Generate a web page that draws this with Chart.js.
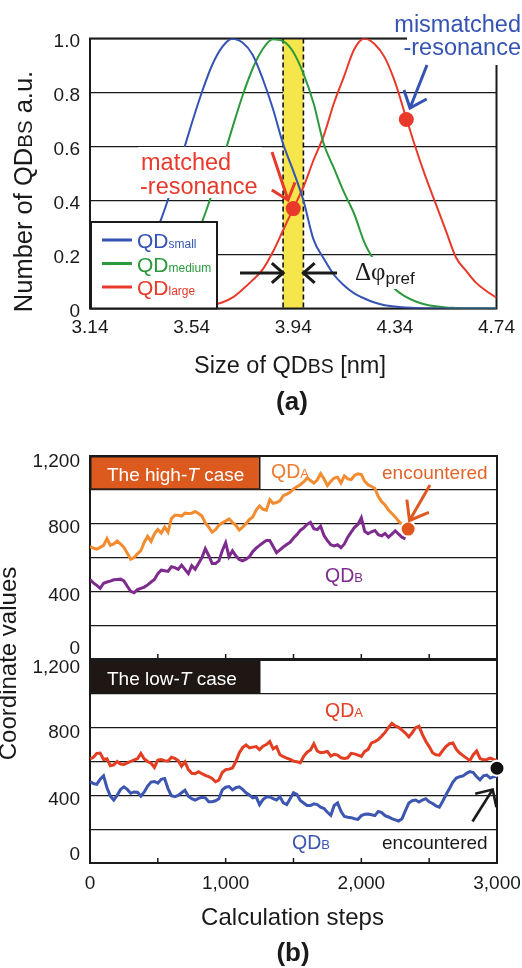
<!DOCTYPE html>
<html><head><meta charset="utf-8">
<script src="https://cdn.jsdelivr.net/npm/chart.js@4/dist/chart.umd.min.js"></script>
<style>
html,body{margin:0;padding:0;background:#fff;}
#wrap{position:relative;width:522px;height:968px;overflow:hidden;background:#fff;}
#wrap canvas{position:absolute;left:0;top:0;}
</style></head><body>
<div id="wrap">
<canvas id="ca" width="522" height="968"></canvas>
<canvas id="cb1" width="522" height="968"></canvas>
<canvas id="cb2" width="522" height="968"></canvas>
</div>
<script>
// ---------------- DATA ----------------
// Panel (a): size distributions
const sizeNm = [3.14,3.18,3.22,3.26,3.30,3.34,3.38,3.42,3.46,3.50,3.54,3.58,3.62,3.66,3.70,3.74,3.78,3.82,3.86,3.90,3.94,3.98,4.02,4.06,4.10,4.14,4.18,4.22,4.26,4.30,4.34,4.38,4.42,4.46,4.50,4.54,4.58,4.62,4.66,4.70,4.74];
const qdSmall = [0.014,0.025,0.042,0.07,0.11,0.165,0.239,0.331,0.44,0.56,0.684,0.80,0.90,0.968,0.999,0.985,0.94,0.85,0.74,0.61,0.51,0.40,0.255,0.185,0.125,0.085,0.056,0.037,0.022,0.012,0.007,0.004,0.002,0.001,0,0,0,0,0,0,0];
const qdMedium = [0.001,0.002,0.004,0.007,0.013,0.023,0.040,0.066,0.104,0.157,0.228,0.318,0.425,0.544,0.668,0.787,0.888,0.961,0.997,0.99,0.95,0.87,0.76,0.61,0.52,0.43,0.35,0.245,0.175,0.12,0.072,0.045,0.027,0.015,0.008,0.004,0.002,0,0,0,0];
const qdLarge = [0,0,0,0,0,0,0,0,0,0.001,0.003,0.006,0.012,0.022,0.04,0.07,0.105,0.145,0.21,0.29,0.37,0.45,0.55,0.64,0.76,0.86,0.96,1.0,0.98,0.93,0.84,0.72,0.60,0.49,0.39,0.29,0.19,0.14,0.095,0.065,0.04];
const sizeTicks = [3.14,3.54,3.94,4.34,4.74];
const countTicks = [0,0.2,0.4,0.6,0.8,1.0];
const prefBand = [3.90,3.98];
const matchedPt = [3.94,0.37];
const mismatchedPt = [4.385,0.70];

// Panel (b): coordinate values vs calculation steps (sampled every 25 steps)
const highA = [665,655,650,660,672,712,672,680,697,680,
660,625,590,600,622,640,690,725,695,740,
765,745,780,750,830,850,850,845,862,860,
862,872,860,845,805,780,750,765,790,805,
815,828,808,790,762,780,800,825,840,880,
905,885,880,942,920,925,935,965,975,985,
1005,1018,1030,1047,1070,1055,1040,1058,1095,1065,
1025,1050,1070,1075,1040,1082,1065,1060,1085,1095,
1090,1050,1030,1020,1008,960,930,910,880,860,
840,815,795,780];
const highB = [470,450,435,418,448,455,460,468,470,472,
462,430,400,392,410,418,425,438,455,470,
505,525,522,518,545,540,530,555,530,505,
552,530,565,600,652,612,565,565,580,640,
687,605,640,610,588,580,590,605,635,655,
672,687,700,700,665,628,645,662,677,690,
715,735,760,775,795,808,770,765,785,730,
700,675,668,675,658,680,720,750,778,795,
835,755,740,752,760,735,728,742,720,738,
758,738,720,710];
const lowA = [615,625,648,650,612,616,575,580,600,585,
582,592,600,610,616,648,615,600,590,565,
608,612,605,602,625,618,605,572,598,552,
530,528,540,528,518,510,500,480,490,535,
552,555,562,600,650,682,698,680,685,688,
670,690,700,718,675,688,640,628,620,612,
602,598,593,630,655,668,705,662,652,655,
660,632,642,638,622,618,622,648,645,638,
630,660,672,710,718,730,750,772,800,825,
810,802,785,768,745,770,800,808,760,720,
688,652,640,638,665,690,705,710,672,650,
635,620,605,640,662,618,610,612,620,612,
605];
const lowB = [482,470,465,495,515,445,395,372,400,435,
450,435,412,420,418,395,420,455,478,482,
472,495,500,440,398,392,400,415,430,395,
380,372,382,388,385,362,362,368,380,432,
448,452,432,445,450,435,415,402,385,390,
345,375,390,392,380,372,392,355,345,380,
415,405,370,355,340,340,350,345,330,322,
300,282,340,355,305,275,270,268,262,258,
280,288,290,285,280,305,298,280,272,262,
255,248,262,310,355,368,372,360,372,380,
362,352,338,330,365,405,440,478,502,510,
515,530,540,535,510,492,515,520,502,510,
512];
const highSteps = highA.map((_, i) => i * 25);
const lowSteps = lowA.map((_, i) => i * 25);
const highEncounter = [2345, 768];
const lowEncounter = [3000, 560];
const stepTicks = [0,1000,2000,3000];
const stepMinorTicks = [500,1000,1500,2000,2500];
const coordTicks = [0,400,800,1200];
const coordGrid = [0,200,400,600,800,1000,1200];

// ---------------- STYLE ----------------
const SANS = "'Liberation Sans', Arial, Helvetica, sans-serif";
const SERIF = "'Liberation Serif', 'Times New Roman', serif";
const C_BLUE = '#3553b3', C_GREEN = '#2c9a3c', C_RED = '#e8392a';
const C_ORANGE = '#f38b2f', C_PURPLE = '#7e2b8e', C_LRED = '#e33d22', C_LBLUE = '#3c56b1';
const INK = '#1a1a1a';

function fnt(p){ return (p.i?'italic ':'') + (p.b?'bold ':'') + p.s + 'px ' + (p.serif?SERIF:SANS); }
function rich(ctx, parts, x, y, align, color){
  ctx.save();
  ctx.textBaseline = 'alphabetic'; ctx.textAlign = 'left';
  const w = parts.map(p => { ctx.font = fnt(p); return ctx.measureText(p.t).width; });
  const tot = w.reduce((a,b)=>a+b,0);
  let cx = align==='right' ? x-tot : align==='center' ? x-tot/2 : x;
  parts.forEach((p,k) => { ctx.font = fnt(p); ctx.fillStyle = p.c || color || INK; ctx.fillText(p.t, cx, y + (p.dy||0)); cx += w[k]; });
  ctx.restore();
  return tot;
}
function richRot(ctx, parts, x, y, color){
  ctx.save(); ctx.translate(x, y); ctx.rotate(-Math.PI/2);
  rich(ctx, parts, 0, 0, 'center', color);
  ctx.restore();
}
function arrow(ctx, x1, y1, x2, y2, head, ang, color, width){
  const a = Math.atan2(y2-y1, x2-x1);
  ctx.save(); ctx.strokeStyle = color; ctx.lineWidth = width; ctx.lineCap = 'butt'; ctx.lineJoin = 'miter';
  ctx.beginPath(); ctx.moveTo(x1,y1); ctx.lineTo(x2,y2); ctx.stroke();
  ctx.beginPath();
  ctx.moveTo(x2 - head*Math.cos(a-ang), y2 - head*Math.sin(a-ang));
  ctx.lineTo(x2, y2);
  ctx.lineTo(x2 - head*Math.cos(a+ang), y2 - head*Math.sin(a+ang));
  ctx.stroke(); ctx.restore();
}
function frame(ctx, ca){
  ctx.save(); ctx.strokeStyle = INK; ctx.lineWidth = 2;
  ctx.strokeRect(ca.left, ca.top, ca.right-ca.left, ca.bottom-ca.top);
  ctx.restore();
}
const common = { responsive:false, animation:false, devicePixelRatio:1, events:[],
  plugins:{ legend:{display:false}, tooltip:{enabled:false} } };

// ---------------- PANEL (a) ----------------
const panelA = {
  id:'panelA',
  beforeDatasetsDraw(chart){
    const {ctx, chartArea:ca, scales:{x}} = chart;
    const xl = x.getPixelForValue(prefBand[0]), xr = x.getPixelForValue(prefBand[1]);
    ctx.save();
    ctx.fillStyle = '#f6e54b';
    ctx.fillRect(xl, ca.top, xr-xl, ca.bottom-ca.top);
    ctx.strokeStyle = '#111'; ctx.lineWidth = 1.6; ctx.setLineDash([5,3]);
    [xl, xr].forEach(px => { ctx.beginPath(); ctx.moveTo(px, ca.top); ctx.lineTo(px, ca.bottom); ctx.stroke(); });
    ctx.restore();
    frame(ctx, ca);
  },
  afterDatasetsDraw(chart){
    const {ctx, chartArea:ca, scales:{x}} = chart;
    const xl = x.getPixelForValue(prefBand[0]), xr = x.getPixelForValue(prefBand[1]);
    ctx.save();
    ctx.fillStyle = '#fff';
    ctx.fillRect(407, 0, 115, 65);
    ctx.fillRect(138, 147, 124, 51);
    ctx.fillRect(352, 257, 66, 32);
    // legend box
    ctx.fillRect(ca.left, 221, 128, ca.bottom-221);
    ctx.strokeStyle = INK; ctx.lineWidth = 2;
    ctx.strokeRect(ca.left+1, 222, 126, ca.bottom-222);
    const leg = [[C_BLUE,'small',240,248],[C_GREEN,'medium',263.5,271.5],[C_RED,'large',287,295]];
    leg.forEach(([c, sub, ly, by]) => {
      ctx.strokeStyle = c; ctx.lineWidth = 3;
      ctx.beginPath(); ctx.moveTo(102, ly); ctx.lineTo(132, ly); ctx.stroke();
      rich(ctx, [{t:'QD',s:21},{t:sub,s:12}], 137, by, 'left', c);
    });
    ctx.restore();
    // annotations
    rich(ctx, [{t:'mismatched',s:23.5}], 521, 31.5, 'right', C_BLUE);
    rich(ctx, [{t:'-resonance',s:23.5}], 521, 55, 'right', C_BLUE);
    rich(ctx, [{t:'matched',s:23.5}], 141, 170, 'left', C_RED);
    rich(ctx, [{t:'-resonance',s:23.5}], 140, 193.5, 'left', C_RED);
    arrow(ctx, 427, 65, 410, 108, 19, 0.7, C_BLUE, 3);
    arrow(ctx, 272, 152, 288, 200, 19, 0.7, C_RED, 3);
    arrow(ctx, 240, 273, xl, 273, 15, 0.72, INK, 3);
    arrow(ctx, 337, 273, xr, 273, 15, 0.72, INK, 3);
    rich(ctx, [{t:'\u0394\u03c6',s:25,serif:true},{t:'pref',s:17,dy:4}], 355, 280, 'left', INK);
  },
  afterDraw(chart){
    const {ctx} = chart;
    rich(ctx, [{t:'Size of QD',s:23.5},{t:'BS',s:19.5},{t:' [nm]',s:23.5}], 290, 373, 'center', INK);
    richRot(ctx, [{t:'Number of QD',s:25.5},{t:'BS',s:20.5},{t:' a.u.',s:25.5}], 32, 191.5, INK);
    rich(ctx, [{t:'(a)',s:26,b:true}], 292, 409.5, 'center', INK);
  }
};
const lineDs = (xs, ys, color, w, order) => ({ data: xs.map((v,i)=>({x:v, y:ys[i]})), borderColor:color, borderWidth:w,
  pointRadius:0, fill:false, cubicInterpolationMode:'monotone', order });

new Chart(document.getElementById('ca'), {
  type:'line',
  data:{ datasets:[
    { type:'scatter', data:[{x:matchedPt[0],y:matchedPt[1]},{x:mismatchedPt[0],y:mismatchedPt[1]}],
      pointRadius:7.5, pointBackgroundColor:C_RED, pointBorderWidth:0, order:0, clip:false },
    lineDs(sizeNm, qdSmall, C_BLUE, 2, 1),
    lineDs(sizeNm, qdMedium, C_GREEN, 2, 2),
    lineDs(sizeNm, qdLarge, C_RED, 2, 3)
  ]},
  options:{ ...common,
    layout:{ padding:{ left:0, top:38.5, right:25.5, bottom:619.5 } },
    scales:{
      x:{ type:'linear', min:3.14, max:4.74,
        afterBuildTicks:s=>{ s.ticks = sizeTicks.map(v=>({value:v})); },
        afterFit:s=>{ s.height = 40; s.paddingLeft = 0; s.paddingRight = 0; },
        grid:{display:false, drawTicks:false}, border:{display:false},
        ticks:{ font:{family:SANS,size:19}, color:INK, padding:8, maxRotation:0, autoSkip:false,
          callback:v=>Number(v).toFixed(2) } },
      y:{ min:0, max:1,
        afterBuildTicks:s=>{ s.ticks = countTicks.map(v=>({value:v})); },
        afterFit:s=>{ s.width = 90; },
        grid:{ color:INK, lineWidth:1.2, drawTicks:false }, border:{display:false},
        ticks:{ font:{family:SANS,size:19}, color:INK, padding:10, labelOffset:3,
          callback:v=> v===0 ? '0' : Number(v).toFixed(1) } }
    }
  },
  plugins:[panelA]
});

// ---------------- PANEL (b) ----------------
function yLabels(chart, nudge){
  const {ctx, scales:{y}} = chart;
  ctx.save(); ctx.font = '19px ' + SANS; ctx.fillStyle = INK; ctx.textAlign = 'right'; ctx.textBaseline = 'middle';
  coordTicks.forEach(v => ctx.fillText(v.toLocaleString('en-US'), 80, y.getPixelForValue(v) + nudge[v]));
  ctx.restore();
}
function innerTicks(chart){
  const {ctx, chartArea:ca, scales:{x}} = chart;
  ctx.save(); ctx.strokeStyle = INK; ctx.lineWidth = 1.5;
  stepMinorTicks.forEach(v => { const px = x.getPixelForValue(v); ctx.beginPath(); ctx.moveTo(px, ca.bottom); ctx.lineTo(px, ca.bottom-5); ctx.stroke(); });
  ctx.restore();
}
function caseBox(chart, fill, parts){
  const {ctx, chartArea:ca, scales:{y}} = chart;
  const b = y.getPixelForValue(1000);
  ctx.save(); ctx.fillStyle = fill; ctx.fillRect(ca.left, ca.top, 170, b-ca.top);
  ctx.strokeStyle = INK; ctx.lineWidth = 1.5; ctx.strokeRect(ca.left+0.75, ca.top+0.75, 169, b-ca.top-1.5);
  ctx.restore();
  rich(ctx, parts, ca.left+17, ca.top + 24.5, 'left', '#fff');
}
const yGrid = { min:0, max:1200, afterBuildTicks:s=>{ s.ticks = coordGrid.map(v=>({value:v})); },
  afterFit:s=>{ s.width = 90; }, grid:{ color:INK, lineWidth:1.2, drawTicks:false }, border:{display:false},
  ticks:{ display:false } };

const panelB1 = {
  id:'panelB1',
  beforeDatasetsDraw(chart){ frame(chart.ctx, chart.chartArea); },
  afterDatasetsDraw(chart){
    const {ctx} = chart;
    caseBox(chart, '#dd5a1f', [{t:'The high-',s:19},{t:'T',s:19,i:true},{t:' case',s:19}]);
    rich(ctx, [{t:'QD',s:19.5},{t:'A',s:13}], 271, 477.5, 'left', '#ef7b2f');
    rich(ctx, [{t:'encountered',s:19}], 382, 479, 'left', '#e2642b');
    rich(ctx, [{t:'QD',s:19.5},{t:'B',s:13}], 325, 582, 'left', C_PURPLE);
    arrow(ctx, 430, 485, 409.5, 520.5, 21, 0.65, '#e0581f', 3);
    innerTicks(chart);
  },
  afterDraw(chart){ yLabels(chart, {0:-10, 400:4, 800:4.5, 1200:6}); }
};
new Chart(document.getElementById('cb1'), {
  type:'line',
  data:{ datasets:[
    { type:'scatter', data:[{x:highEncounter[0], y:highEncounter[1]}], pointRadius:7.5, pointBackgroundColor:'#e0561d',
      pointBorderColor:'#fff', pointBorderWidth:2, order:0, clip:false },
    { ...lineDs(highSteps, highA, C_ORANGE, 3, 1), cubicInterpolationMode:'default', tension:0 },
    { ...lineDs(highSteps, highB, C_PURPLE, 3, 2), cubicInterpolationMode:'default', tension:0 }
  ]},
  options:{ ...common,
    layout:{ padding:{ left:0, top:456, right:25, bottom:309 } },
    scales:{ x:{ type:'linear', min:0, max:3000, display:false }, y:yGrid }
  },
  plugins:[panelB1]
});

const panelB2 = {
  id:'panelB2',
  beforeDatasetsDraw(chart){ frame(chart.ctx, chart.chartArea); },
  afterDatasetsDraw(chart){
    const {ctx} = chart;
    caseBox(chart, '#1e1714', [{t:'The low-',s:19},{t:'T',s:19,i:true},{t:' case',s:19}]);
    rich(ctx, [{t:'QD',s:19.5},{t:'A',s:13}], 325, 717, 'left', C_LRED);
    rich(ctx, [{t:'QD',s:19.5},{t:'B',s:13}], 292, 849, 'left', C_LBLUE);
    rich(ctx, [{t:'encountered',s:19}], 382, 849, 'left', INK);
    arrow(ctx, 472.5, 821.5, 492.7, 789.5, 18, 0.77, INK, 2.6);
    innerTicks(chart);
  },
  afterDraw(chart){
    const {ctx} = chart;
    yLabels(chart, {0:-8, 400:4.5, 800:5, 1200:8});
    rich(ctx, [{t:'Calculation steps',s:24}], 292.5, 925, 'center', INK);
    richRot(ctx, [{t:'Coordinate values',s:24}], 15.5, 663.5, INK);
    rich(ctx, [{t:'(b)',s:26,b:true}], 293, 961, 'center', INK);
  }
};
new Chart(document.getElementById('cb2'), {
  type:'line',
  data:{ datasets:[
    { type:'scatter', data:[{x:lowEncounter[0], y:lowEncounter[1]}], pointRadius:7.5, pointBackgroundColor:'#111',
      pointBorderColor:'#fff', pointBorderWidth:2, order:0, clip:false },
    { ...lineDs(lowSteps, lowA, C_LRED, 3, 1), cubicInterpolationMode:'default', tension:0 },
    { ...lineDs(lowSteps, lowB, C_LBLUE, 3, 2), cubicInterpolationMode:'default', tension:0 }
  ]},
  options:{ ...common,
    layout:{ padding:{ left:0, top:660, right:25, bottom:65 } },
    scales:{
      x:{ type:'linear', min:0, max:3000,
        afterBuildTicks:s=>{ s.ticks = stepTicks.map(v=>({value:v})); },
        afterFit:s=>{ s.height = 40; s.paddingLeft = 0; s.paddingRight = 0; },
        grid:{display:false, drawTicks:false}, border:{display:false},
        ticks:{ font:{family:SANS,size:19}, color:INK, padding:9, maxRotation:0, autoSkip:false,
          callback:v=>Number(v).toLocaleString('en-US') } },
      y:yGrid
    }
  },
  plugins:[panelB2]
});
</script>
</body></html>
